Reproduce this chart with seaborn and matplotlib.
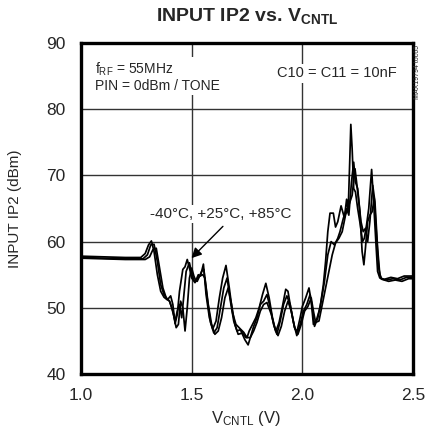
import numpy as np
import pandas as pd
import matplotlib
matplotlib.use("Agg")
import matplotlib.pyplot as plt
import seaborn as sns

# INPUT IP2 (dBm) vs VCNTL (V), three temperatures
v_a = [1.00, 1.10, 1.20, 1.27, 1.29, 1.305, 1.318, 1.33, 1.345, 1.36, 1.375, 1.39, 1.405, 1.415,
       1.425, 1.435, 1.445, 1.46, 1.47, 1.48, 1.49, 1.50, 1.515, 1.53, 1.54, 1.553, 1.565, 1.58,
       1.595, 1.61, 1.625, 1.64, 1.655, 1.67, 1.685, 1.70, 1.72, 1.735, 1.75, 1.76, 1.775, 1.79,
       1.805, 1.82, 1.835, 1.85, 1.865, 1.88, 1.895, 1.91, 1.925, 1.935, 1.95, 1.965, 1.975, 1.99,
       2.00, 2.015, 2.03, 2.04, 2.05, 2.065, 2.08, 2.095, 2.105, 2.115, 2.125, 2.14, 2.15, 2.16,
       2.175, 2.19, 2.20, 2.207, 2.214, 2.219, 2.225, 2.232, 2.24, 2.25, 2.262, 2.272, 2.28, 2.29,
       2.30, 2.313, 2.322, 2.332, 2.34, 2.35, 2.37, 2.40, 2.43, 2.46, 2.50]
ip2_a = [57.8, 57.7, 57.6, 57.6, 58.2, 59.5, 60.1, 58.5, 55.0, 52.5, 51.6, 51.2, 51.8, 50.5,
         47.6, 49.0, 52.5, 55.8, 56.2, 57.3, 56.0, 54.5, 53.8, 55.0, 54.8, 56.6, 52.0, 48.5,
         46.8, 48.0, 51.5, 54.5, 56.4, 53.0, 49.2, 47.5, 46.8, 46.3, 45.5, 46.5, 47.5, 48.5,
         50.0, 52.0, 53.7, 51.5, 48.5, 46.4, 47.8, 50.2, 52.8, 52.5, 49.5, 47.0, 46.3, 48.5,
         50.2, 51.5, 53.0, 51.0, 47.5, 48.3, 50.0, 53.5, 57.0, 61.5, 64.3, 64.3, 62.2, 63.0,
         65.4, 63.6, 66.4, 64.6, 72.0, 77.7, 74.0, 68.0, 67.5, 65.0, 62.5, 60.0, 60.5, 62.5,
         65.0, 70.9, 66.0, 60.0, 55.5, 54.5, 54.3, 54.6, 54.4, 54.8, 54.8]

v_b = [1.00, 1.10, 1.20, 1.28, 1.30, 1.315, 1.33, 1.345, 1.36, 1.375, 1.39, 1.40, 1.41, 1.425,
       1.435, 1.445, 1.455, 1.465, 1.475, 1.49, 1.50, 1.51, 1.525, 1.545, 1.555, 1.57, 1.585,
       1.60, 1.615, 1.63, 1.645, 1.66, 1.675, 1.69, 1.705, 1.72, 1.74, 1.755, 1.765, 1.78, 1.795,
       1.81, 1.825, 1.84, 1.855, 1.87, 1.885, 1.90, 1.915, 1.93, 1.945, 1.96, 1.975, 1.99, 2.005,
       2.02, 2.035, 2.045, 2.055, 2.07, 2.085, 2.10, 2.115, 2.13, 2.145, 2.16, 2.17, 2.185, 2.20,
       2.21, 2.222, 2.232, 2.24, 2.25, 2.26, 2.27, 2.278, 2.285, 2.295, 2.305, 2.315, 2.325, 2.335,
       2.345, 2.355, 2.38, 2.41, 2.44, 2.47, 2.50]
ip2_b = [57.6, 57.5, 57.4, 57.4, 58.0, 59.5, 59.6, 57.0, 53.5, 52.0, 51.3, 51.0, 50.0, 48.0,
         49.5, 50.5, 48.5, 52.0, 55.5, 56.8, 55.2, 54.2, 54.0, 55.5, 55.8, 51.5, 47.8,
         46.2, 47.0, 50.0, 53.0, 54.5, 51.0, 48.0, 46.5, 46.7, 45.2, 44.4, 45.5, 47.2, 48.5,
         50.5, 51.0, 52.0, 50.0, 47.5, 46.0, 48.0, 50.5, 51.8, 50.5, 47.8, 45.8, 47.5, 49.5,
         50.5, 52.0, 50.0, 47.2, 48.5, 51.0, 54.0, 58.0, 60.0, 59.5, 60.5, 61.5, 63.5, 65.0,
         64.0, 69.0, 72.0, 69.0, 68.0, 64.5, 58.5, 56.5, 59.0, 63.0, 64.0, 64.5, 66.5, 61.0,
         56.0, 54.4, 54.2, 54.4, 54.2, 54.6, 54.6]

v_c = [1.00, 1.10, 1.20, 1.29, 1.31, 1.325, 1.34, 1.355, 1.37, 1.385, 1.40, 1.415, 1.43, 1.44,
       1.45, 1.46, 1.47, 1.48, 1.49, 1.50, 1.51, 1.52, 1.535, 1.55, 1.56, 1.575, 1.59, 1.605,
       1.62, 1.635, 1.65, 1.665, 1.68, 1.695, 1.71, 1.73, 1.745, 1.765, 1.78, 1.795, 1.81, 1.825,
       1.84, 1.86, 1.875, 1.89, 1.905, 1.92, 1.935, 1.95, 1.965, 1.98, 1.995, 2.01, 2.025, 2.04,
       2.05, 2.06, 2.075, 2.09, 2.105, 2.12, 2.135, 2.15, 2.165, 2.18, 2.195, 2.21, 2.225, 2.238,
       2.245, 2.255, 2.265, 2.275, 2.285, 2.295, 2.305, 2.318, 2.328, 2.34, 2.35, 2.36, 2.39,
       2.42, 2.45, 2.48, 2.50]
ip2_c = [57.5, 57.4, 57.3, 57.3, 57.7, 58.8, 59.0, 56.0, 53.0, 51.5, 51.0, 49.5, 47.0, 47.5,
         51.0, 50.0, 46.5, 50.0, 54.5, 56.0, 54.8, 54.0, 54.8, 55.0, 54.5, 50.5, 47.5, 46.0,
         46.5, 48.5, 51.5, 53.0, 50.5, 47.5, 46.0, 46.2, 45.5, 45.5, 46.5, 47.8, 49.5, 50.5,
         50.8, 49.0, 47.0, 45.8, 47.2, 49.5, 51.0, 49.5, 47.0, 46.0, 47.5, 49.5, 50.2, 51.5,
         49.5, 47.8, 48.0, 50.5, 53.0, 55.5, 58.0, 59.8, 60.5, 61.5, 64.0, 65.5, 67.0, 71.0,
         69.0, 66.0, 63.0, 61.5, 62.0, 60.0, 63.0, 68.5, 66.0, 59.0, 55.0, 54.3, 54.0,
         54.2, 54.0, 54.4, 54.4]

temps = ["-40°C", "+25°C", "+85°C"]
x_ticks = [1.0, 1.5, 2.0, 2.5]
y_ticks = [40, 50, 60, 70, 80, 90]

df = pd.concat([
    pd.DataFrame({"v": v, "ip2": y, "temp": t})
    for v, y, t in zip([v_a, v_b, v_c], [ip2_a, ip2_b, ip2_c], temps)
], ignore_index=True)

sns.set_style("white")
plt.rcParams["font.family"] = ["Liberation Sans Narrow", "Liberation Sans", "DejaVu Sans"]
plt.rcParams["mathtext.default"] = "regular"

fig = plt.figure(figsize=(4.25, 4.38), dpi=100)
ax = fig.add_axes([0.1906, 0.1461, 0.7812, 0.7557])

sns.lineplot(data=df, x="v", y="ip2", hue="temp", palette=["black"] * 3,
             sort=False, estimator=None, legend=False, linewidth=1.25, ax=ax)

ax.set_xlim(1.0, 2.5)
ax.set_ylim(40, 90)
ax.set_xticks(x_ticks)
ax.set_yticks(y_ticks)
ax.set_xticklabels([f"{t:.1f}" for t in x_ticks])
ax.tick_params(length=0, labelsize=12.5)
ax.tick_params(axis="x", pad=10)
ax.tick_params(axis="y", pad=11)
ax.grid(True, color="#333333", linewidth=1)
ax.set_axisbelow(True)
for s in ax.spines.values():
    s.set_linewidth(2.4)
    s.set_color("black")

ax.set_xlabel("V$_{CNTL}$ (V)", fontsize=12)
ax.xaxis.set_label_coords(0.497, -0.106)
ax.set_ylabel("INPUT IP2 (dBm)", fontsize=11)
ax.yaxis.set_label_coords(-0.178, 0.5)

fig.text(0.582, 0.964, "INPUT IP2 vs. V$_{CNTL}$", ha="center", va="center",
         fontsize=14, fontweight="bold")

bb = dict(facecolor="white", edgecolor="none", pad=1.5)
ax.text(1.063, 87.4, "f$_{RF}$ = 55MHz\nPIN = 0dBm / TONE", fontsize=10,
        va="top", ha="left", linespacing=1.15, bbox=bb, zorder=5)
ax.text(2.428, 85.4, "C10 = C11 = 10nF", fontsize=10.5, va="center", ha="right",
        bbox=bb, zorder=5)
ax.annotate("", xy=(1.49, 57.2), xytext=(1.65, 62.6),
            arrowprops=dict(arrowstyle="-|>", color="black", lw=1, mutation_scale=15))
ax.text(1.631, 64.2, ", ".join(temps), fontsize=11, ha="center", va="center",
        bbox=bb, zorder=5)

fig.text(0.983, 0.898, "MAX19794 toc65", rotation=90, ha="center", va="top", fontsize=5)

fig.savefig("out.png", dpi=100, facecolor="white")
